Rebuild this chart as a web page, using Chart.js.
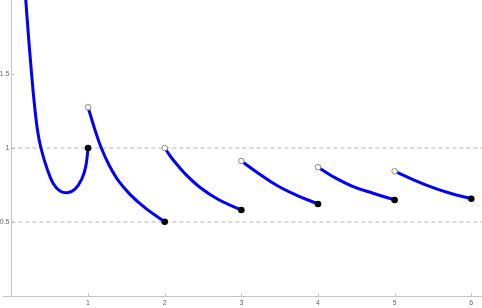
<!DOCTYPE html>
<html>
<head>
<meta charset="utf-8">
<script src="https://cdn.jsdelivr.net/npm/chart.js@4/dist/chart.umd.min.js"></script>
<style>
html,body{margin:0;padding:0;background:#fff;}
#wrap{width:482px;height:308px;}
</style>
</head>
<body>
<div id="wrap"><canvas id="c" width="482" height="308"></canvas></div>
<script>
// Curve segments
const seg0X = [0.187, 0.222, 0.255, 0.293, 0.34, 0.385, 0.46, 0.545, 0.634, 0.73, 0.83, 0.917, 0.97, 1.0];
const seg0Y = [2.0, 1.76, 1.55, 1.33, 1.12, 1.0, 0.868, 0.76, 0.71, 0.698, 0.722, 0.79, 0.876, 1.0];
const seg1X = [1.0, 1.035, 1.10, 1.174, 1.274, 1.405, 1.557, 1.753, 2.0];
const seg1Y = [1.275, 1.215, 1.107, 0.998, 0.885, 0.772, 0.682, 0.592, 0.502];
const seg2X = [2.0, 2.114, 2.266, 2.462, 2.70, 3.0];
const seg2Y = [1.0, 0.917, 0.826, 0.733, 0.652, 0.581];
const seg3X = [3.0, 3.193, 3.454, 3.715, 4.0];
const seg3Y = [0.912, 0.84, 0.75, 0.682, 0.622];
const seg4X = [4.0, 4.198, 4.459, 4.72, 5.0];
const seg4Y = [0.87, 0.806, 0.739, 0.694, 0.649];
const seg5X = [5.0, 5.204, 5.465, 5.726, 6.0];
const seg5Y = [0.843, 0.795, 0.739, 0.694, 0.657];

const openX = [1, 2, 3, 4, 5];
const openY = [1.275, 1.0, 0.912, 0.87, 0.843];
const filledX = [1, 2, 3, 4, 5, 6];
const filledY = [1.0, 0.502, 0.581, 0.622, 0.649, 0.657];

const refLevels = [0.5, 1];
const xTicks = [1, 2, 3, 4, 5, 6];
const yTicks = [0.5, 1, 1.5];
const xRange = [-0.11, 6.14];
const yRange = [0, 2];

const zip = (xs, ys) => xs.map((x, i) => ({x: x, y: ys[i]}));

const segs = [[seg0X, seg0Y], [seg1X, seg1Y], [seg2X, seg2Y], [seg3X, seg3Y], [seg4X, seg4Y], [seg5X, seg5Y]];

const datasets = [];
refLevels.forEach(v => {
  datasets.push({
    type: 'line',
    data: [{x: 0, y: v}, {x: xRange[1], y: v}],
    borderColor: '#b4b4b4',
    borderWidth: 1,
    borderDash: [4, 3],
    pointRadius: 0,
    fill: false,
    order: 5
  });
});
segs.forEach(s => {
  datasets.push({
    type: 'line',
    data: zip(s[0], s[1]),
    borderColor: '#0000ff',
    borderWidth: 3,
    pointRadius: 0,
    tension: 0.4,
    fill: false,
    order: 3
  });
});
datasets.push({
  type: 'scatter',
  data: zip(openX, openY),
  backgroundColor: '#ffffff',
  borderColor: '#8a8a8a',
  borderWidth: 1,
  pointRadius: 2.8,
  order: 1
});
datasets.push({
  type: 'scatter',
  data: zip(filledX, filledY),
  backgroundColor: '#000000',
  borderColor: '#000000',
  borderWidth: 0,
  pointRadius: 3.3,
  order: 1
});

const axesPlugin = {
  id: 'axesPlugin',
  beforeDatasetsDraw(chart) {
    const ctx = chart.ctx;
    const xs = chart.scales.x, ys = chart.scales.y;
    const x0 = Math.round(xs.getPixelForValue(0)) + 0.5;
    const y0 = Math.round(ys.getPixelForValue(0)) + 0.5;
    ctx.save();
    ctx.strokeStyle = '#c4c4c4';
    ctx.lineWidth = 1;
    ctx.beginPath();
    ctx.moveTo(xs.left, y0);
    ctx.lineTo(xs.right, y0);
    ctx.moveTo(x0, ys.top);
    ctx.lineTo(x0, y0);
    xTicks.forEach(t => {
      const px = Math.round(xs.getPixelForValue(t)) + 0.5;
      ctx.moveTo(px, y0);
      ctx.lineTo(px, y0 - 3);
    });
    yTicks.forEach(t => {
      const py = Math.round(ys.getPixelForValue(t)) + 0.5;
      ctx.moveTo(x0, py);
      ctx.lineTo(x0 + 3, py);
    });
    ctx.stroke();
    ctx.fillStyle = '#666666';
    ctx.font = '7px "Liberation Sans", Arial, sans-serif';
    ctx.textAlign = 'center';
    ctx.textBaseline = 'top';
    xTicks.forEach(t => {
      ctx.fillText(String(t), xs.getPixelForValue(t), y0 + 3);
    });
    ctx.textAlign = 'right';
    ctx.textBaseline = 'middle';
    yTicks.forEach(t => {
      ctx.fillText(String(t), x0 - 2, ys.getPixelForValue(t));
    });
    ctx.restore();
  }
};

new Chart(document.getElementById('c'), {
  data: {datasets: datasets},
  options: {
    responsive: false,
    animation: false,
    events: [],
    layout: {autoPadding: false, padding: {left: 3, right: 0, top: 0, bottom: 12}},
    plugins: {legend: {display: false}, tooltip: {enabled: false}},
    scales: {
      x: {type: 'linear', min: xRange[0], max: xRange[1], display: false},
      y: {type: 'linear', min: yRange[0], max: yRange[1], display: false}
    }
  },
  plugins: [axesPlugin]
});
</script>
</body>
</html>
